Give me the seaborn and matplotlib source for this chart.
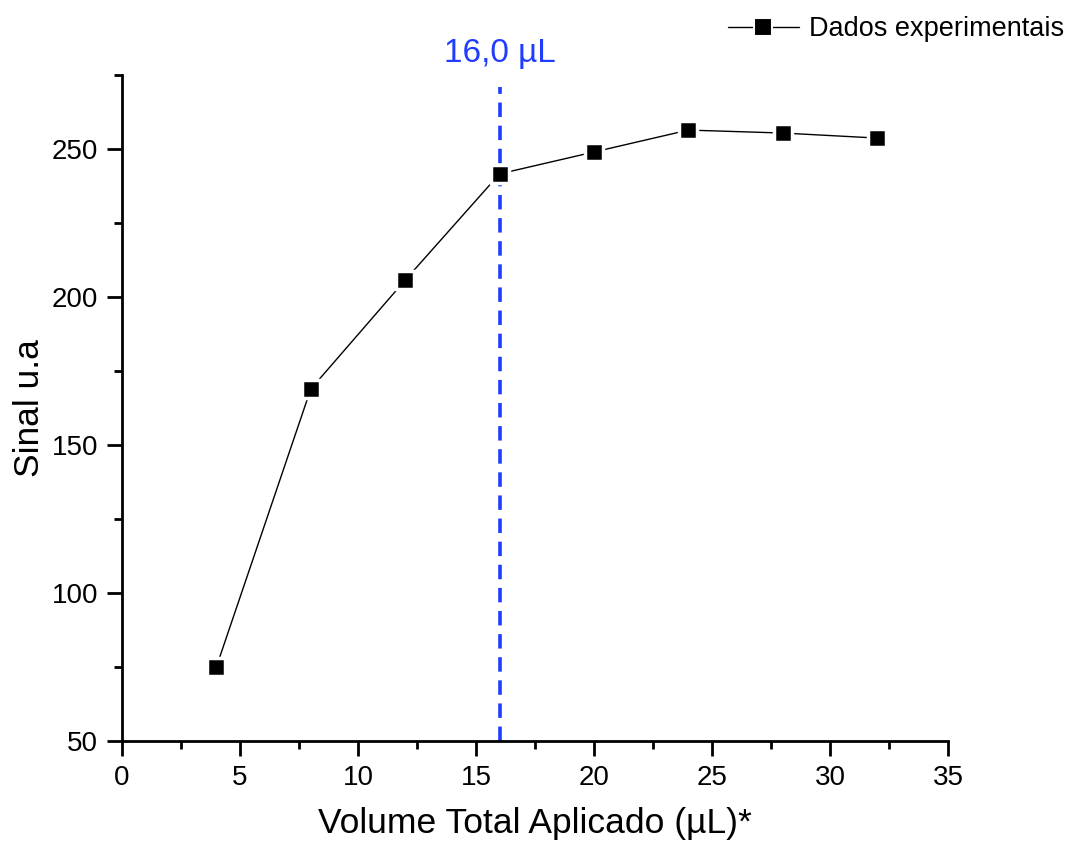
import matplotlib
matplotlib.use("Agg")
import matplotlib.pyplot as plt
import seaborn as sns
import pandas as pd
from matplotlib.ticker import MultipleLocator
from matplotlib.lines import Line2D

volume = [4, 8, 12, 16, 20, 24, 28, 32]
sinal = [75.0, 168.9, 205.7, 241.6, 249.0, 256.4, 255.4, 253.7]
x_label = "Volume Total Aplicado (µL)*"
y_label = "Sinal u.a"
legend_label = "Dados experimentais"
marker_x = 16.0
marker_text = "16,0 µL"

sns.set_theme(style="ticks")
plt.rcParams['font.family'] = ['Liberation Sans', 'DejaVu Sans']
plt.rcParams['text.color'] = 'black'
plt.rcParams['axes.labelcolor'] = 'black'

df = pd.DataFrame({"volume": volume, "sinal": sinal})

fig = plt.figure(figsize=(10.68, 8.43), dpi=100)
ax = fig.add_axes([0.1142, 0.121, 0.7734, 0.790])

sns.lineplot(data=df, x="volume", y="sinal", ax=ax, color="black", linewidth=1.0,
             marker="s", markersize=13.5, markerfacecolor="black",
             markeredgecolor="white", markeredgewidth=2.5,
             legend=False, zorder=3)

ax.plot([marker_x, marker_x], [50, 271], color="#1f3cff", linestyle=(0, (4, 2.4)),
        linewidth=2.6, zorder=2, clip_on=False)
ax.text(marker_x, 277, marker_text, color="#1f3cff", fontsize=24, ha="center",
        va="bottom", clip_on=False)

ax.set_xlim(0, 35)
ax.set_ylim(50, 275)
ax.xaxis.set_major_locator(MultipleLocator(5))
ax.xaxis.set_minor_locator(MultipleLocator(2.5))
ax.yaxis.set_major_locator(MultipleLocator(50))
ax.yaxis.set_minor_locator(MultipleLocator(25))
ax.tick_params(which="major", direction="out", length=11, width=2, labelsize=20,
               colors="black", labelcolor="black", pad=6)
ax.tick_params(which="minor", direction="out", length=6, width=2, colors="black")

for s in ["top", "right"]:
    ax.spines[s].set_visible(False)
for s in ["left", "bottom"]:
    ax.spines[s].set_linewidth(2)
    ax.spines[s].set_color("black")

ax.set_xlabel(x_label, fontsize=25.5, labelpad=12, color="black")
ax.set_ylabel(y_label, fontsize=25.5, labelpad=4, color="black")

h = Line2D([], [], color="black", linewidth=1.0, marker="s", markersize=13,
           markerfacecolor="black", markeredgecolor="white", markeredgewidth=1.5)
fig.legend([h], [legend_label], loc="upper right", bbox_to_anchor=(1.012, 1.0),
           frameon=False, fontsize=19.5, handlelength=2.6, handletextpad=0.4,
           borderaxespad=0.2, labelcolor="black")

fig.savefig("out.png", dpi=100)
